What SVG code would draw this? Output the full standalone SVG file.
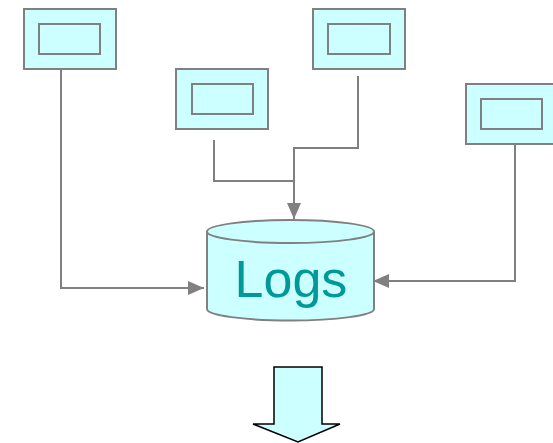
<svg xmlns="http://www.w3.org/2000/svg" width="553" height="443" viewBox="0 0 553 443">
<style>
.box{fill:#CCFFFF;stroke:#808080;stroke-width:2}
.in{fill:#CCFFFF;stroke:#808080;stroke-width:2}
.con{fill:none;stroke:#808080;stroke-width:2}
.lbl{font-family:"Liberation Sans",Arial,sans-serif;font-size:52px;fill:#009999}
</style>
<defs>
<marker id="ah2" viewBox="0 0 16 14" refX="16" refY="7" markerWidth="16" markerHeight="14" orient="auto" markerUnits="userSpaceOnUse">
<path d="M0,0 L16,7 L0,14 z" fill="#808080"/>
</marker>
</defs>
<rect width="553" height="443" fill="#FFFFFF"/>
<g id="box1"><rect class="box" x="24" y="9" width="92" height="60"/><rect class="in" x="39" y="24" width="61" height="30"/></g>
<g id="box2"><rect class="box" x="176" y="69" width="92" height="60"/><rect class="in" x="192" y="84" width="61" height="30"/></g>
<g id="box3"><rect class="box" x="313" y="9" width="92" height="60"/><rect class="in" x="328" y="24" width="62" height="30"/></g>
<g id="box4"><rect class="box" x="466" y="84" width="92" height="60"/><rect class="in" x="481" y="99" width="61" height="30"/></g>
<g id="logs">
<path d="M207,231.5 V309 A83.5,11.5 0 0 0 374,309 V231.5" fill="#CCFFFF" stroke="#808080" stroke-width="2"/>
<ellipse cx="290.5" cy="231.5" rx="83.5" ry="11.5" fill="#CCFFFF" stroke="#808080" stroke-width="2"/>
<text class="lbl" x="291" y="297" text-anchor="middle">Logs</text>
</g>
<g id="connectors">
<path class="con" d="M61,70 V288 H204" marker-end="url(#ah2)"/>
<path class="con" d="M214,140 V181 H294 V219" marker-end="url(#ah2)"/>
<path class="con" d="M358,76 V148 H294 V181"/>
<path class="con" d="M515,144 V281 H373" marker-end="url(#ah2)"/>
</g>
<g id="bigarrow">
<path d="M274,367 H322 V424 H340 L298,442 L253,424 H274 Z" fill="#CCFFFF" stroke="#000000" stroke-width="1.5"/>
</g>
</svg>
